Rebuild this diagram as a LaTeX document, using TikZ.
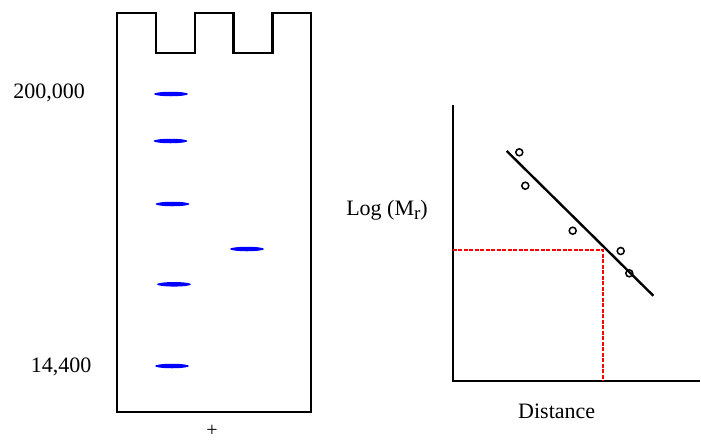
\documentclass[tikz,border=0pt]{standalone}
\usepackage{fontspec}
\setmainfont{Liberation Serif}
\usetikzlibrary{shapes.geometric}
\begin{document}
\begin{tikzpicture}[x=1pt,y=-1pt,
  band/.style={ellipse,fill=blue,draw=none,minimum width=34pt,minimum height=4.5pt,inner sep=0pt},
  pt/.style={circle,draw,line width=1.5pt,minimum size=7pt,inner sep=0pt},
  lab/.style={font=\fontsize{22}{24}\selectfont,inner sep=0pt},
  gel/.style={line width=2.4pt},
  axe/.style={line width=2.4pt},
  guide/.style={red,line width=1.6pt,dash pattern=on 4pt off 1.5pt}]
  \useasboundingbox (0,0) rectangle (701,440);
  % ---- 1. Gel
  \draw[gel] (117,13) -- (155.7,13) -- (155.7,53) -- (195,53) -- (195,13) -- (233.3,13)
    -- (233.3,53) -- (272.3,53) -- (272.3,13) -- (311,13) -- (311,412) -- (117,412) -- cycle;
  \node[band] (m1) at (171,94) {};
  \node[band] (m2) at (170.5,141) {};
  \node[band] (m3) at (172.5,204) {};
  \node[band] (m4) at (174,284.3) {};
  \node[band] (m5) at (172,366) {};
  \node[band] (smp) at (247,249) {};
  \node[lab] (hi) at (49,93) {200,000};
  \node[lab] (lo) at (61,367) {14,400};
  \node[lab,font=\fontsize{20}{20}\selectfont,text depth=0pt] (plus) at (212,431) {+};
  % ---- 2. Courbe
  \coordinate (ytop) at (452.7,105);
  \coordinate (o) at (452.7,381);
  \coordinate (xend) at (700,381);
  \draw[axe] (ytop) -- (o) -- (xend);
  \node[pt] (p1) at (519.3,152.3) {};
  \node[pt] (p2) at (525.3,185.7) {};
  \node[pt] (p3) at (572.7,230.7) {};
  \node[pt] (p4) at (620.7,251) {};
  \node[pt] (p5) at (629.3,273.3) {};
  \coordinate (fa) at (506.7,151);
  \coordinate (fb) at (653.3,295.7);
  \draw[line width=2.4pt] (fa) -- (fb);
  \coordinate (ya) at (452.7,250);
  \coordinate (hit) at (603,250);
  \coordinate (xa) at (603,381);
  \draw[guide] (ya) -- (hit) -- (xa);
  \node[lab] (ylab) at (387,210) {Log (M\raisebox{-0.4ex}{\fontsize{19}{19}\selectfont r})};
  \node[lab] (xlab) at (556.7,411) {Distance};
\end{tikzpicture}
\end{document}
